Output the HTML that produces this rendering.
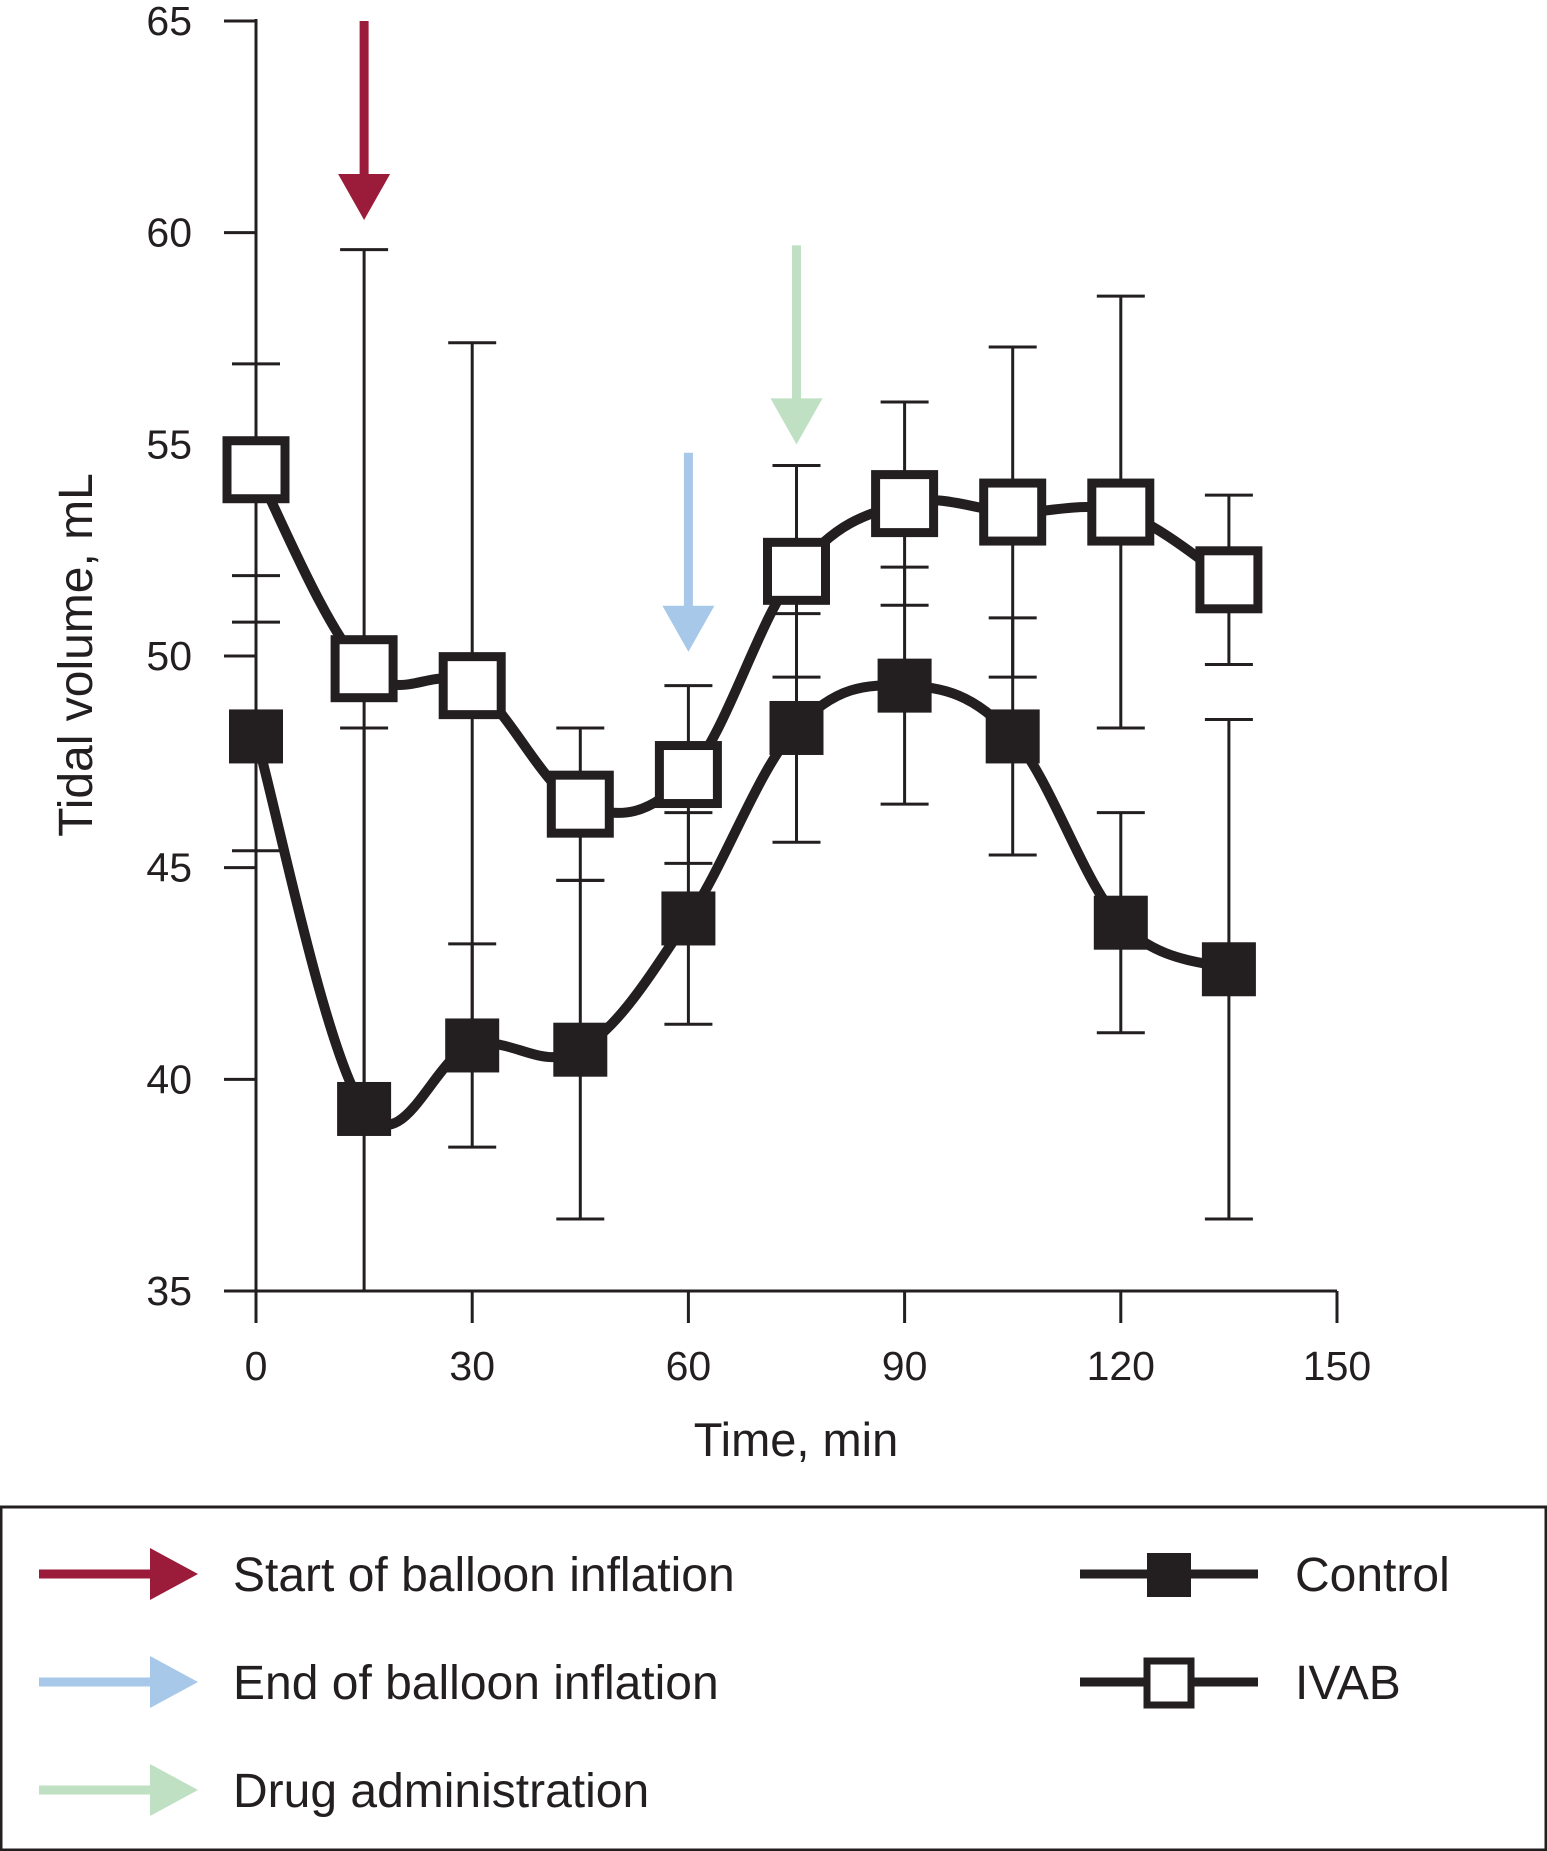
<!DOCTYPE html>
<html><head><meta charset="utf-8"><style>
html,body{margin:0;padding:0;background:#fff;}
svg{display:block;font-family:"Liberation Sans",Arial,sans-serif;}
</style></head><body>
<svg id="chart" width="1547" height="1851" viewBox="0 0 1547 1851">
<g id="axes"></g>
<g id="arrows"></g>
<g id="series"></g>
<text x="0" y="0" transform="translate(92,655) rotate(-90)" text-anchor="middle" font-size="48" fill="#231f20">Tidal volume, mL</text>
<text x="796" y="1456" text-anchor="middle" font-size="47" fill="#231f20">Time, min</text>
<g>
<rect x="1" y="1507" width="1545" height="343" fill="none" stroke="#231f20" stroke-width="3"/>
<g>
<line x1="39" y1="1574" x2="160" y2="1574" stroke="#9b1b3a" stroke-width="9"/>
<polygon points="150,1548 198,1574 150,1600" fill="#9b1b3a"/>
<text x="233" y="1591" font-size="48" fill="#231f20">Start of balloon inflation</text></g>
<g>
<line x1="39" y1="1682" x2="160" y2="1682" stroke="#a7c8e8" stroke-width="9"/>
<polygon points="150,1656 198,1682 150,1708" fill="#a7c8e8"/>
<text x="233" y="1699" font-size="48" fill="#231f20">End of balloon inflation</text></g>
<g>
<line x1="39" y1="1790" x2="160" y2="1790" stroke="#bfe0c3" stroke-width="9"/>
<polygon points="150,1764 198,1790 150,1816" fill="#bfe0c3"/>
<text x="233" y="1807" font-size="48" fill="#231f20">Drug administration</text></g>
<g>
<line x1="1080" y1="1574" x2="1258" y2="1574" stroke="#231f20" stroke-width="9"/>
<rect x="1147" y="1553" width="44" height="44" fill="#231f20"/>
<text x="1295" y="1591" font-size="48" fill="#231f20">Control</text></g>
<g>
<line x1="1080" y1="1682" x2="1258" y2="1682" stroke="#231f20" stroke-width="9"/>
<rect x="1147" y="1661" width="44" height="44" fill="#fff" stroke="#231f20" stroke-width="7"/>
<text x="1295" y="1699" font-size="48" fill="#231f20">IVAB</text></g>
</g>
</svg>
<script>
const times = [0,15,30,45,60,75,90,105,120,135];
const controlVals = [48.1,39.3,40.8,40.7,43.8,48.3,49.3,48.1,43.7,42.6];
const controlErr = [2.7,9.0,2.4,4.0,2.5,2.7,2.8,2.8,2.6,5.9];
const ivabVals = [54.4,49.7,49.3,46.5,47.2,52.0,53.6,53.4,53.4,51.8];
const ivabErr = [2.5,9.9,8.1,1.8,2.1,2.5,2.4,3.9,5.1,2.0];
const xTicks = [0,30,60,90,120,150];
const yTicks = [35,40,45,50,55,60,65];
const eventTimes = [15,60,75];
const eventTops = [65,54.8,59.7];
const eventTips = [60.3,50.1,55.0];
const eventColors = ['#9b1b3a','#a7c8e8','#bfe0c3'];
const eventNames = ['arrow-start-balloon','arrow-end-balloon','arrow-drug'];

const NS='http://www.w3.org/2000/svg';
const X0=256,X1=1337,Y0=1291,Y1=21;
const xs=t=>X0+(t-0)/(150-0)*(X1-X0);
const ys=v=>Y0-(v-35)/(65-35)*(Y0-Y1);
function mk(tag,attrs,parent){const e=document.createElementNS(NS,tag);for(const k in attrs)e.setAttribute(k,attrs[k]);parent.appendChild(e);return e;}
const ax=document.getElementById('axes');
const ink='#231f20';
let l=mk('line',{x1:X0,y1:Y1-2,x2:X0,y2:Y0+30,stroke:ink,'stroke-width':3},ax);


l=mk('line',{x1:X0-32,y1:Y0,x2:X1,y2:Y0,stroke:ink,'stroke-width':3},ax);


yTicks.forEach(v=>{
  mk('line',{x1:X0-32,y1:ys(v),x2:X0,y2:ys(v),stroke:ink,'stroke-width':3},ax);
  const t=mk('text',{x:X0-64,y:ys(v)+14,'text-anchor':'end','font-size':41,fill:ink},ax);
  t.textContent=v;
  
  
});
xTicks.forEach(v=>{
  mk('line',{x1:xs(v),y1:Y0,x2:xs(v),y2:Y0+32,stroke:ink,'stroke-width':3},ax);
  const t=mk('text',{x:xs(v),y:Y0+89,'text-anchor':'middle','font-size':41,fill:ink},ax);
  t.textContent=v;
  
  
});
const ar=document.getElementById('arrows');
eventTimes.forEach((t,i)=>{
  const g=mk('g',{},ar);
  
  
  const x=xs(t),top=ys(eventTops[i]),tip=ys(eventTips[i]);
  mk('line',{x1:x,y1:top,x2:x,y2:tip-40,stroke:eventColors[i],'stroke-width':9},g);
  mk('polygon',{points:`${x-26},${tip-46} ${x+26},${tip-46} ${x},${tip}`,fill:eventColors[i]},g);
});
const se=document.getElementById('series');
function path(vals){
  const p=times.map((t,i)=>[xs(t),ys(vals[i])]);
  let d=`M${p[0][0]},${p[0][1]}`;
  for(let i=0;i<p.length-1;i++){
    const p0=p[Math.max(0,i-1)],p1=p[i],p2=p[i+1],p3=p[Math.min(p.length-1,i+2)];
    const k=0.18;
    const c1=[p1[0]+(p2[0]-p0[0])*k,p1[1]+(p2[1]-p0[1])*k];
    const c2=[p2[0]-(p3[0]-p1[0])*k,p2[1]-(p3[1]-p1[1])*k];
    d+=` C${c1[0]},${c1[1]} ${c2[0]},${c2[1]} ${p2[0]},${p2[1]}`;
  }
  return d;
}
function errs(vals,er,name){
  const g=mk('g',{},se);
  
  
  times.forEach((t,i)=>{
    const x=xs(t),hi=ys(Math.min(65,vals[i]+er[i])),lo=ys(Math.max(35,vals[i]-er[i]));
    mk('line',{x1:x,y1:hi,x2:x,y2:lo,stroke:ink,'stroke-width':3},g);
    if(vals[i]+er[i]<=65) mk('line',{x1:x-24,y1:hi,x2:x+24,y2:hi,stroke:ink,'stroke-width':3},g);
    if(vals[i]-er[i]>=35) mk('line',{x1:x-24,y1:lo,x2:x+24,y2:lo,stroke:ink,'stroke-width':3},g);
  });
}
errs(controlVals,controlErr,'control-error-bars');
errs(ivabVals,ivabErr,'ivab-error-bars');
let ln=mk('path',{d:path(controlVals),fill:'none',stroke:ink,'stroke-width':10},se);


ln=mk('path',{d:path(ivabVals),fill:'none',stroke:ink,'stroke-width':10},se);


times.forEach((t,i)=>{
  const r=mk('rect',{x:xs(t)-27,y:ys(controlVals[i])-27,width:54,height:54,fill:ink},se);
  
  
});
times.forEach((t,i)=>{
  const r=mk('rect',{x:xs(t)-29,y:ys(ivabVals[i])-29,width:58,height:58,fill:'#fff',stroke:ink,'stroke-width':9},se);
  
  
});
</script>
</body></html>
